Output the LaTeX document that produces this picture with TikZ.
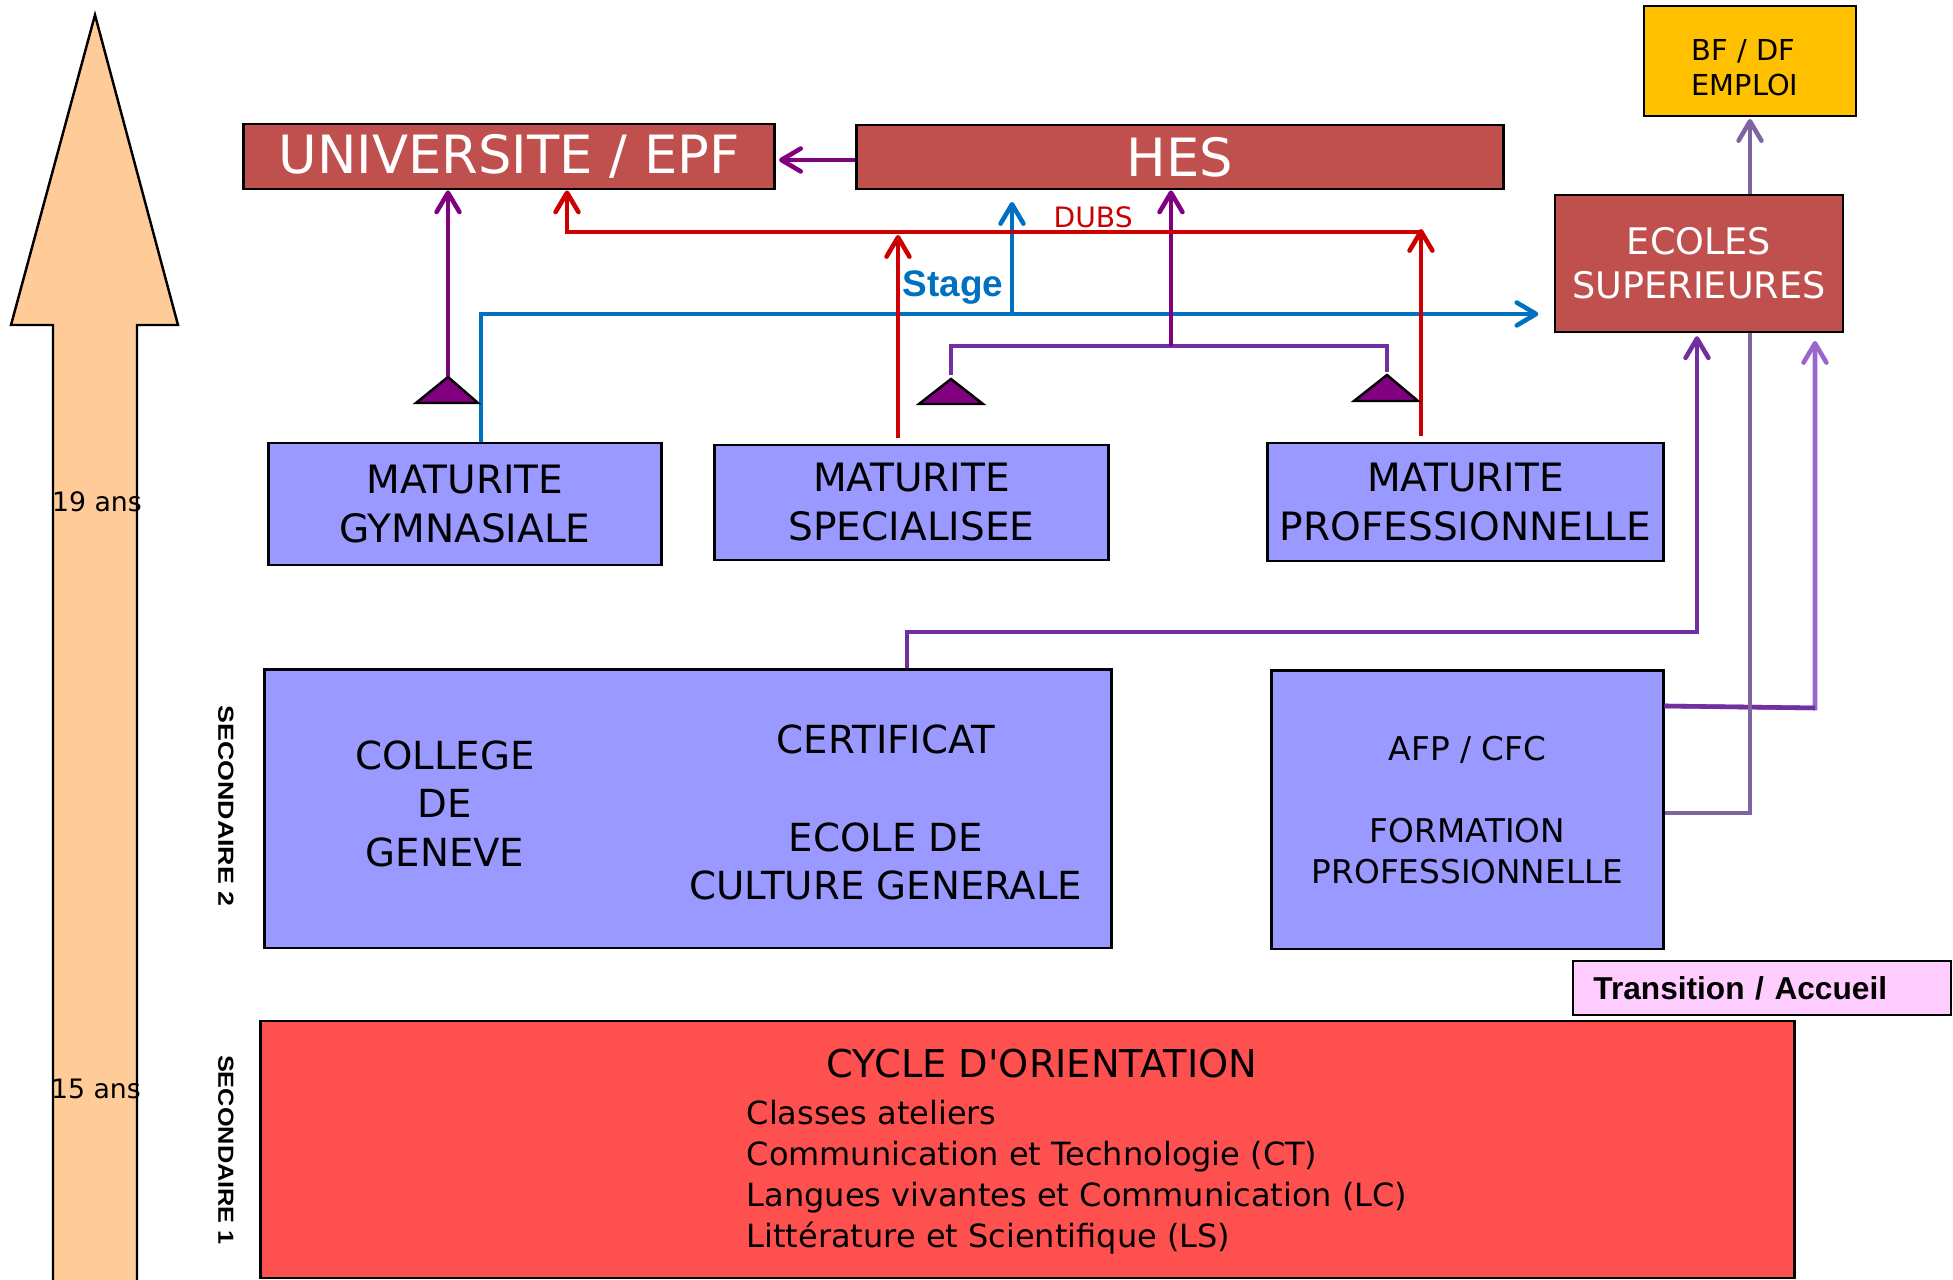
\documentclass[tikz,border=0pt]{standalone}
\usepackage{fontspec}
\usepackage{graphicx}
\setmainfont{DejaVu Sans}
\newfontfamily\arialf{Liberation Sans}
\usetikzlibrary{arrows.meta}
\definecolor{boxred}{HTML}{C0504D}
\definecolor{boxblue}{HTML}{9999FF}
\definecolor{cyclered}{HTML}{FF5050}
\definecolor{arrowfill}{HTML}{FFCC99}
\definecolor{lineblue}{HTML}{0070C0}
\definecolor{linered}{HTML}{CC0000}
\definecolor{linepurple}{HTML}{800080}
\definecolor{linepurpleb}{HTML}{7030A0}
\definecolor{linegpurple}{HTML}{8064A2}
\definecolor{linelpurple}{HTML}{9966CC}
\definecolor{bfyellow}{HTML}{FFC000}
\definecolor{transpink}{HTML}{FFCCFF}
\newcommand{\fsz}[2]{\fontsize{#1}{#2}\selectfont}
\begin{document}
\begin{tikzpicture}[x=0.01cm,y=-0.01cm,
  box/.style={draw=black,line width=0.8pt,inner sep=0pt,align=center},
  redbox/.style={box,fill=boxred,text=white},
  bluebox/.style={box,fill=boxblue,text=black},
  link/.style={line width=1.3pt},
  tip/.style={-{Straight Barb[length=5.5pt,width=6.5pt,round]}},
  tri/.style={fill=linepurple,draw=black,line width=0.7pt,line join=miter},
  lbl/.style={inner sep=0pt},
  seclbl/.style={lbl,rotate=-90,font=\arialf\bfseries\fsz{6.2}{7.5}}
]
\useasboundingbox (0,0) rectangle (1953,1280);
% growth arrow
\draw[fill=arrowfill,line width=0.7pt] (95,15) -- (178,325) -- (137,325) -- (137,1300) -- (53,1300) -- (53,325) -- (11,325) -- cycle;
\node[lbl,font=\fsz{7.6}{9}] (age19) at (97,502) {19 ans};
\node[lbl,font=\fsz{7.6}{9}] (age15) at (96,1089) {15 ans};

% boxes
\node[redbox,minimum width=5.30cm,minimum height=0.65cm,font=\fsz{15}{18}] (univ) at (509,156.5) {UNIVERSITE / EPF};
\node[redbox,minimum width=6.46cm,minimum height=0.64cm,font=\fsz{15}{18}] (hes) at (1180,157) {HES};
\node[box,line width=0.5pt,fill=bfyellow,minimum width=2.12cm,minimum height=1.10cm] (bf) at (1750,61) {};
\node[lbl,align=left,font=\fsz{8.2}{10}] (bftext) at (1745,67.5) {BF / DF\\EMPLOI};
\node[redbox,minimum width=2.88cm,minimum height=1.37cm,font=\fsz{10.4}{12.5}] (ecoles) at (1699,263.5) {ECOLES\\SUPERIEURES};
\node[bluebox,minimum width=3.92cm,minimum height=1.22cm,font=\fsz{11.1}{13.9}] (mgym) at (465,504) {MATURITE\\GYMNASIALE};
\node[bluebox,minimum width=3.93cm,minimum height=1.15cm,font=\fsz{11.1}{13.9}] (mspec) at (911.5,502.5) {MATURITE\\SPECIALISEE};
\node[bluebox,minimum width=3.95cm,minimum height=1.18cm,font=\fsz{11.1}{13.9}] (mpro) at (1465.5,502) {MATURITE\\PROFESSIONNELLE};
\node[bluebox,minimum width=8.46cm,minimum height=2.78cm] (college) at (688,809) {};
\node[lbl,align=center,font=\fsz{11}{13.8}] (colt) at (445,803.5) {COLLEGE\\DE\\GENEVE};
\node[lbl,align=center,font=\fsz{11}{13.9}] (ecgt) at (886,812.5) {CERTIFICAT\\[13.9pt]ECOLE DE\\CULTURE GENERALE};
\node[bluebox,minimum width=3.91cm,minimum height=2.78cm,font=\fsz{9.3}{11.7}] (afp) at (1467.5,810) {AFP / CFC\\[11.7pt]FORMATION\\PROFESSIONNELLE};
\node[box,line width=0.6pt,fill=transpink,minimum width=3.77cm,minimum height=0.54cm,text width=3.37cm,align=left,inner xsep=0.2cm,font=\arialf\bfseries\fsz{9.0}{11}] (trans) at (1762,988) {Transition / Accueil};
\node[box,fill=cyclered,minimum width=15.33cm,minimum height=2.57cm] (cycle) at (1027.5,1149.5) {};
\node[lbl,font=\fsz{10.9}{13}] (cyt) at (1042,1063.5) {CYCLE D\textquotesingle ORIENTATION};
\node[lbl,anchor=base west,font=\fsz{9.1}{11}] (cy1) at (746,1125) {Classes ateliers};
\node[lbl,anchor=base west,font=\fsz{9.1}{11}] (cy2) at (746,1166) {Communication et Technologie (CT)};
\node[lbl,anchor=base west,font=\fsz{9.1}{11}] (cy3) at (746,1207) {Langues vivantes et Communication (LC)};
\node[lbl,anchor=base west,font=\fsz{9.1}{11}] (cy4) at (746,1248) {Littérature et Scientifique (LS)};
\node[seclbl] (sec2) at (226,806) {\scalebox{1.23}[1]{SECONDAIRE 2}};
\node[seclbl] (sec1) at (226,1150) {\scalebox{1.16}[1]{SECONDAIRE 1}};

% junction coordinates
\coordinate (t1) at (448,377);
\coordinate (t2) at (951,379);
\coordinate (t3) at (1387,375);
\coordinate (bJ) at (481,314);
\coordinate (rR) at (1421,232);
\coordinate (rL) at (567,232);

% blue (stage) connectors
\draw[link,tip,draw=lineblue,shorten >=4.3pt] (mgym.north -| bJ) -- (bJ) -- (ecoles.west |- bJ);
\draw[link,tip,draw=lineblue] (1012,314) -- (1012,202);

% purple connectors
\draw[link,tip,draw=linepurple] (t1) -- (t1 |- univ.south);
\draw[link,tip,draw=linepurple,shorten >=1pt] (hes.west |- 0,160) -- (univ.east |- 0,160);
\draw[link,draw=linepurpleb,shorten <=1.2pt,shorten >=0.8pt] (t2) -- (t2 |- 0,346) -- (t3 |- 0,346) -- (t3);
\draw[link,tip,draw=linepurple] (1171,346) -- (hes.south -| 1171,0);
\draw[link,tip,draw=linepurpleb,shorten >=0.8pt] (college.north -| 907,0) -- (907,632) -- (1697,632) -- (ecoles.south -| 1697,0);
\draw[link,tip,draw=linelpurple] (afp.east |- 0,706) -- (1815,708) -- (1815,341);
\draw[link,draw=linepurpleb] (afp.east |- 0,706) -- (1815,708);
\draw[link,draw=linegpurple] (afp.east |- 0,813) -- (1750,813) -- (ecoles.south -| 1750,0);
\draw[link,tip,draw=linegpurple,shorten >=0.6pt] (ecoles.north -| 1750,0) -- (bf.south -| 1750,0);

% red connectors
\draw[link,tip,draw=linered] (rR) -- (rL) -- (rL |- univ.south);
\draw[link,tip,draw=linered,shorten <=1.5pt] (mpro.north -| rR) -- (1421,229);
\draw[link,tip,draw=linered,shorten <=1.5pt] (mspec.north -| 898,0) -- (898,235);

% triangles
\draw[tri] (t1) -- (416,403) -- (478,403) -- cycle;
\draw[tri] (t2) -- (919,404) -- (983,404) -- cycle;
\draw[tri] (t3) -- (1354,401) -- (1418,401) -- cycle;

% labels
\node[lbl,anchor=base west,font=\arialf\bfseries\fsz{10.5}{12},text=lineblue] (stage) at (902,297) {Stage};
\node[lbl,anchor=base west,font=\fsz{8}{10},text=linered] (dubs) at (1053,228) {DUBS};
\end{tikzpicture}
\end{document}
